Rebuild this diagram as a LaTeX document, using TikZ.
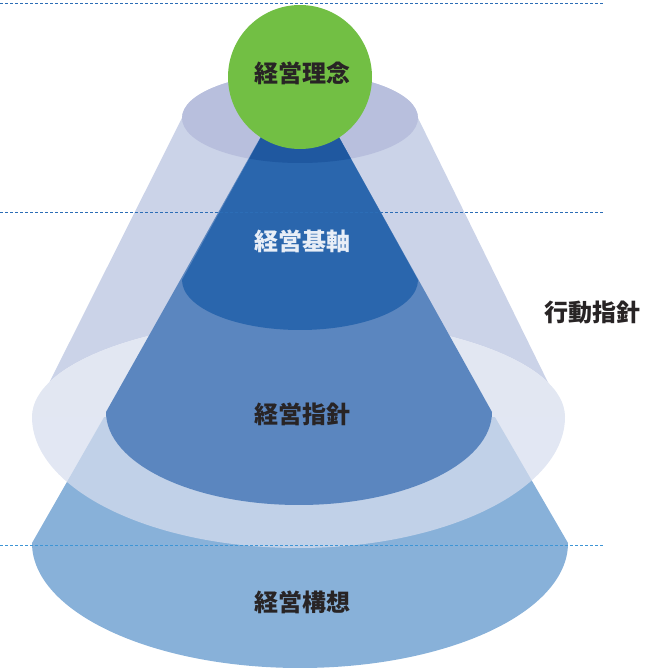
\documentclass[tikz,border=0pt]{standalone}
\usepackage{fontspec}
\newfontfamily\jp{Noto Sans CJK JP}
\definecolor{lightside}{HTML}{CBD3E8}
\definecolor{ringcol}{HTML}{B8BFDD}
\definecolor{ellface}{HTML}{D7DEEE}
\definecolor{frustcol}{HTML}{88B1D9}
\definecolor{medcol}{HTML}{5B86BF}
\definecolor{darkcol}{HTML}{2A66AD}
\definecolor{darkover}{HTML}{1F58A0}
\definecolor{greencol}{HTML}{72BF44}
\definecolor{txtdark}{HTML}{282425}
\definecolor{txtlight}{HTML}{E8EEF7}
\definecolor{dashA}{HTML}{2C6DB6}
\definecolor{dashB}{HTML}{3E95D5}
\tikzset{
  lbl/.style={font=\jp\bfseries\fontsize{24}{26}\selectfont, text=txtdark, inner sep=0pt},
  guide/.style={line width=1pt, dash pattern=on 3pt off 2pt}
}
\begin{document}
\begin{tikzpicture}[x=1pt,y=1pt]
\useasboundingbox (0,0) rectangle (665,670);
% frustum (経営構想)
\fill[frustcol] (107,258) -- (32,127) arc[start angle=180,end angle=360,x radius=268,y radius=125] -- (492,258) -- cycle;
% light cone sides (行動指針)
\fill[lightside] (182,552) -- (32,253) -- (565,253) -- (418,552) arc[start angle=0,end angle=180,x radius=118,y radius=45] -- cycle;
% light cone bottom face
\fill[white] (32,253) arc[start angle=180,end angle=0,x radius=266.5,y radius=98] -- cycle;
\fill[ellface,opacity=0.72] (32,253) arc[start angle=180,end angle=0,x radius=266.5,y radius=98] arc[start angle=0,end angle=-180,x radius=266.5,y radius=131] -- cycle;
% top ring
\fill[ringcol] (300,552) ellipse[x radius=118,y radius=45];
% medium cone (経営指針)
\fill[medcol] (300,603) -- (106,258) arc[start angle=180,end angle=360,x radius=193,y radius=93] -- cycle;
% dark cone (経営基軸)
\fill[darkcol] (300,603) -- (182,390) arc[start angle=180,end angle=360,x radius=118,y radius=50] -- cycle;
\begin{scope}
  \clip (300,552) ellipse[x radius=118,y radius=45];
  \fill[darkover] (300,603) -- (182,390) arc[start angle=180,end angle=360,x radius=118,y radius=50] -- cycle;
\end{scope}
% circle
\node[circle, fill=greencol, minimum size=144pt, inner sep=0pt] (rinen) at (300,593) {};
% guide lines
\coordinate (g1a) at (0,666.5); \coordinate (g1b) at (603,666.5);
\coordinate (g2a) at (0,457);   \coordinate (g2b) at (603,457);
\coordinate (g3a) at (0,124);   \coordinate (g3b) at (603,124);
\draw[guide, dashA] (g1a) -- (g1b);
\draw[guide, dashA] (g2a) -- (g2b);
\draw[guide, dashB] (g3a) -- (g3b);
% labels
\node[lbl] (t1) at (302,597) {経営理念};
\node[lbl, text=txtlight] (t2) at (302,429) {経営基軸};
\node[lbl] (t3) at (302,256) {経営指針};
\node[lbl] (t4) at (592,358) {行動指針};
\node[lbl] (t5) at (302,68) {経営構想};
\end{tikzpicture}
\end{document}
